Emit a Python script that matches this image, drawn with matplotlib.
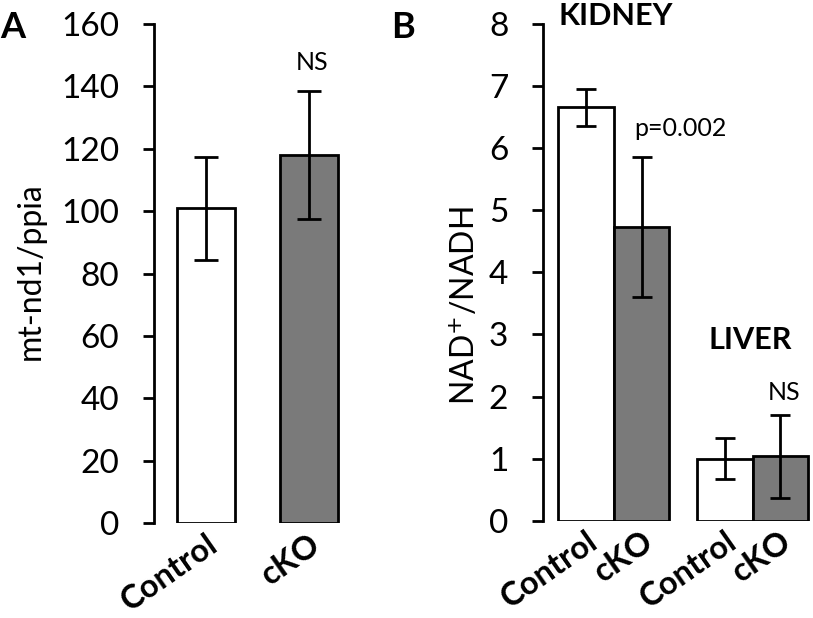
import numpy as np
import matplotlib.pyplot as plt

plt.rcParams['font.family'] = ['Lato', 'DejaVu Sans']

W, H = 813, 618

# panel A: mt-nd1/ppia
a_groups = ['Control', 'cKO']
a_values = [101, 118]
a_errors = [16.5, 20.5]

# panel B: NAD+/NADH, kidney and liver
b_groups = ['Control', 'cKO', 'Control', 'cKO']
b_values = [6.66, 4.73, 1.0, 1.04]
b_errors = [0.30, 1.12, 0.33, 0.67]

colors = ['white', '#7a7a7a', 'white', '#7a7a7a']
LW = 2.0


def px(x, y):
    # pixel position (from top-left) -> figure fraction
    return x / W, 1 - y / H


def style_axis(ax):
    for s in ['top', 'right', 'bottom']:
        ax.spines[s].set_visible(False)
    ax.spines['left'].set_linewidth(LW)
    ax.tick_params(axis='y', length=8, width=LW, pad=17, labelsize=24)
    ax.tick_params(axis='x', length=0, pad=4)
    for lab in ax.get_xticklabels():
        lab.set_rotation(35)
        lab.set_ha('right')
        lab.set_rotation_mode('anchor')
        lab.set_fontsize(23.5)
        lab.set_fontweight('bold')


fig = plt.figure(figsize=(W / 100, H / 100), dpi=100)

# ---- Panel A
axA = fig.add_axes([154 / W, 0.1532, 0.254, 0.808])
xa = np.arange(len(a_groups))
axA.bar(xa, a_values, width=0.57, color=colors[:2], edgecolor='black', linewidth=LW)
axA.errorbar(xa, a_values, yerr=a_errors, fmt='none', ecolor='black',
             elinewidth=LW, capsize=8.3, capthick=LW)
axA.set_ylim(0, 160)
axA.set_yticks(range(0, 161, 20))
axA.set_xlim(-0.505, 1.5)
axA.set_xticks(xa)
axA.set_xticklabels(a_groups)
style_axis(axA)

# ---- Panel B
axB = fig.add_axes([543 / W, 0.1574, 0.3294, 0.8038])
xb = np.array([0, 1, 2.5, 3.5])
axB.bar(xb, b_values, width=1.0, color=colors, edgecolor='black', linewidth=LW)
axB.errorbar(xb, b_values, yerr=b_errors, fmt='none', ecolor='black',
             elinewidth=LW, capsize=7.5, capthick=LW)
axB.set_ylim(0, 8)
axB.set_yticks(range(0, 9))
axB.set_xlim(-0.775, 4.05)
axB.set_xticks(xb)
axB.set_xticklabels(b_groups)
style_axis(axB)

# labels and annotations
fig.text(*px(31, 271), 'mt-nd1/ppia', rotation=90, ha='center', va='center', fontsize=23)
fig.text(*px(465, 306), 'NAD$^{+}$/NADH', rotation=90, ha='center', va='center', fontsize=23)

fig.text(*px(0, 27), 'A', ha='left', va='center', fontsize=26, fontweight='bold')
fig.text(*px(391, 27), 'B', ha='left', va='center', fontsize=26, fontweight='bold')

fig.text(*px(312, 62), 'NS', ha='center', va='center', fontsize=18)
fig.text(*px(616, 16), 'KIDNEY', ha='center', va='center', fontsize=22, fontweight='bold')
fig.text(*px(680, 128), 'p=0.002', ha='center', va='center', fontsize=18)
fig.text(*px(750, 340), 'LIVER', ha='center', va='center', fontsize=22, fontweight='bold')
fig.text(*px(784, 393), 'NS', ha='center', va='center', fontsize=18)

fig.savefig('out.png', dpi=100)
